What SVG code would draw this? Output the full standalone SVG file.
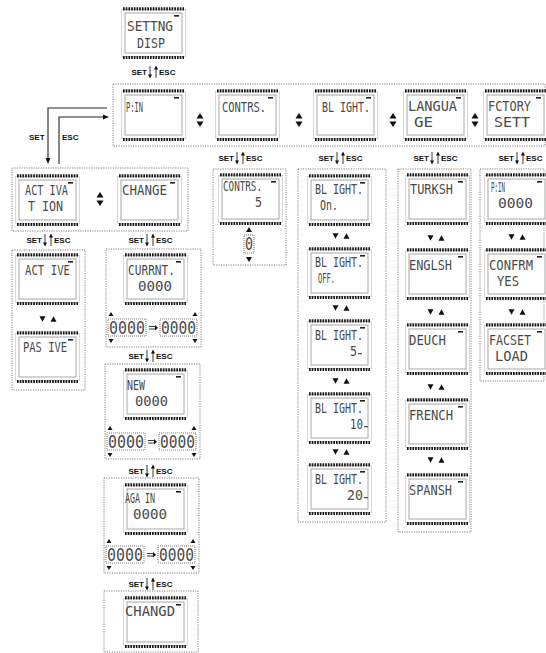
<svg xmlns="http://www.w3.org/2000/svg" width="546" height="653" viewBox="0 0 546 653">
<style>
.bg{fill:#fff}
.box{fill:none;stroke:#8a7d78;stroke-width:1;stroke-dasharray:1.2 1.2}
.dbox{fill:#fff;stroke:#6e6e6e;stroke-width:0.9;stroke-dasharray:1 1}
.t{font-family:"DejaVu Sans Mono","Liberation Mono",monospace;font-size:13.5px;fill:#4a4a4a}
.d{font-family:"DejaVu Sans Mono","Liberation Mono",monospace;font-size:17px;fill:#4a4a4a}
.lbl{font-family:"Liberation Sans",Arial,sans-serif;font-weight:bold;font-size:8px;fill:#111}
.conn{fill:none;stroke:#222;stroke-width:1.1}
.thin{fill:none;stroke:#222;stroke-width:0.9}
.tri{fill:#111}
</style>
<defs>
<g id="lcd">
<rect x="0.5" y="2.5" width="64" height="47" fill="#fff" stroke="#cfcfcf" stroke-width="0.8"/>
<rect x="4" y="6" width="57" height="40" fill="none" stroke="#a8a8a8" stroke-width="1"/>
<line x1="2" y1="1.8" x2="63" y2="1.8" stroke="#1a1a1a" stroke-width="3.2" stroke-dasharray="1.7 1"/>
<line x1="2" y1="50.5" x2="63" y2="50.5" stroke="#1a1a1a" stroke-width="3.2" stroke-dasharray="1.7 1"/>
<rect x="53" y="8" width="5" height="1.6" fill="#222"/>
</g>
<g id="ud" class="tri">
<polygon points="0,-7 -3.5,-1.5 3.5,-1.5"/>
<polygon points="0,7 -3.5,1.5 3.5,1.5"/>
</g>
<g id="da" class="tri">
<polygon points="-8.5,-2.8 -2.5,-2.8 -5.5,2.8"/>
<polygon points="2.5,2.8 8.5,2.8 5.5,-2.8"/>
</g>
<g id="se">
<line class="thin" x1="-3" y1="-6" x2="-3" y2="3"/>
<polygon class="tri" points="-5,2.5 -1,2.5 -3,6.5"/>
<line class="thin" x1="3" y1="6" x2="3" y2="-3"/>
<polygon class="tri" points="1,-2.5 5,-2.5 3,-6.5"/>
</g>
<g id="row">
<rect class="dbox" x="3" y="0" width="38" height="17"/>
<rect class="dbox" x="55" y="0" width="37" height="17"/>
<polygon class="tri" points="6,-7 3.5,-3 8.5,-3"/>
<polygon class="tri" points="6,24 3.5,20 8.5,20"/>
<polygon class="tri" points="90,-7 87.5,-3 92.5,-3"/>
<polygon class="tri" points="90,24 87.5,20 92.5,20"/>
<path d="M44,7.5 H50 M44,10 H50" class="thin" stroke-width="0.8"/>
<polygon class="tri" points="50,6 53,8.8 50,11.5"/>
</g>
</defs>
<rect class="bg" x="0" y="0" width="546" height="653"/>

<!-- container boxes -->
<g id="containers">
<rect class="box" x="113" y="84" width="432" height="62"/>
<rect class="box" x="12" y="168" width="176" height="63"/>
<rect class="box" x="12" y="250" width="73" height="140"/>
<rect class="box" x="106" y="249" width="95" height="98"/>
<rect class="box" x="105" y="364" width="95" height="95"/>
<rect class="box" x="104" y="478" width="95" height="95"/>
<rect class="box" x="104" y="591" width="94" height="61"/>
<rect class="box" x="213" y="169" width="73" height="96"/>
<rect class="box" x="298" y="169" width="88" height="353"/>
<rect class="box" x="398" y="169" width="73" height="363"/>
<rect class="box" x="480" y="169" width="64" height="212"/>
</g>

<!-- connectors -->
<g id="connectors">
<path class="conn" d="M107,108 H48 V159"/>
<polygon class="tri" points="45.5,158 50.5,158 48,164"/>
<path class="conn" d="M59,164 V117 H104"/>
<polygon class="tri" points="103,114.5 103,119.5 109,117"/>
<use href="#se" x="153" y="72"/>
<use href="#se" x="240" y="158"/>
<use href="#se" x="340" y="158"/>
<use href="#se" x="435" y="158"/>
<use href="#se" x="520" y="158"/>
<use href="#se" x="48" y="240"/>
<use href="#se" x="150" y="240"/>
<use href="#se" x="150" y="356"/>
<use href="#se" x="150" y="471"/>
<use href="#se" x="150" y="584"/>
<use href="#ud" x="200" y="120"/>
<use href="#ud" x="299" y="120"/>
<use href="#ud" x="393" y="120"/>
<use href="#ud" x="475" y="120"/>
<use href="#ud" x="100" y="199"/>
<use href="#da" x="48" y="319"/>
<use href="#da" x="341" y="236"/>
<use href="#da" x="341" y="308"/>
<use href="#da" x="341" y="381"/>
<use href="#da" x="341" y="452"/>
<use href="#da" x="436" y="238"/>
<use href="#da" x="436" y="312"/>
<use href="#da" x="436" y="387"/>
<use href="#da" x="436" y="460"/>
<use href="#da" x="517" y="237"/>
<use href="#da" x="517" y="312"/>
</g>

<!-- SET / ESC labels -->
<g id="labels">
<text class="lbl" x="147" y="75" text-anchor="end">SET</text><text class="lbl" x="159" y="75">ESC</text>
<text class="lbl" x="234" y="161" text-anchor="end">SET</text><text class="lbl" x="246" y="161">ESC</text>
<text class="lbl" x="334" y="161" text-anchor="end">SET</text><text class="lbl" x="346" y="161">ESC</text>
<text class="lbl" x="429" y="161" text-anchor="end">SET</text><text class="lbl" x="441" y="161">ESC</text>
<text class="lbl" x="514" y="161" text-anchor="end">SET</text><text class="lbl" x="526" y="161">ESC</text>
<text class="lbl" x="42" y="243" text-anchor="end">SET</text><text class="lbl" x="54" y="243">ESC</text>
<text class="lbl" x="144" y="243" text-anchor="end">SET</text><text class="lbl" x="156" y="243">ESC</text>
<text class="lbl" x="144" y="359" text-anchor="end">SET</text><text class="lbl" x="156" y="359">ESC</text>
<text class="lbl" x="144" y="474" text-anchor="end">SET</text><text class="lbl" x="156" y="474">ESC</text>
<text class="lbl" x="144" y="587" text-anchor="end">SET</text><text class="lbl" x="156" y="587">ESC</text>
<text class="lbl" x="29" y="140">SET</text>
<text class="lbl" x="62" y="140">ESC</text>
</g>

<!-- nodes -->
<g id="n-setting"><use href="#lcd" x="121" y="7"/>
<text class="t" x="127" y="31" textLength="46" lengthAdjust="spacingAndGlyphs">SETTNG</text>
<text class="t" x="137" y="48" textLength="28" lengthAdjust="spacingAndGlyphs">DISP</text></g>

<g id="n-pin"><use href="#lcd" x="121" y="89"/>
<text class="t" x="126" y="112" textLength="17" lengthAdjust="spacingAndGlyphs">P:IN</text></g>
<g id="n-contrs"><use href="#lcd" x="215" y="89"/>
<text class="t" x="222" y="112" textLength="44" lengthAdjust="spacingAndGlyphs">CONTRS.</text></g>
<g id="n-blight"><use href="#lcd" x="313" y="89"/>
<text class="t" x="322" y="112" textLength="48" lengthAdjust="spacingAndGlyphs">BL IGHT.</text></g>
<g id="n-langua"><use href="#lcd" x="403" y="89"/>
<text class="t" x="408" y="111" textLength="49" lengthAdjust="spacingAndGlyphs">LANGUA</text>
<text class="t" x="414" y="127" textLength="19" lengthAdjust="spacingAndGlyphs">GE</text></g>
<g id="n-fctory"><use href="#lcd" x="483" y="89"/>
<text class="t" x="488" y="111" textLength="43" lengthAdjust="spacingAndGlyphs">FCTORY</text>
<text class="t" x="494" y="127" textLength="36" lengthAdjust="spacingAndGlyphs">SETT</text></g>

<g id="n-activation"><use href="#lcd" x="15" y="174"/>
<text class="t" x="25" y="195" textLength="43" lengthAdjust="spacingAndGlyphs">ACT IVA</text>
<text class="t" x="28" y="211" textLength="35" lengthAdjust="spacingAndGlyphs">T ION</text></g>
<g id="n-change"><use href="#lcd" x="117" y="174"/>
<text class="t" x="122" y="195" textLength="45" lengthAdjust="spacingAndGlyphs">CHANGE</text></g>

<g id="n-active"><use href="#lcd" x="15" y="253"/>
<text class="t" x="25" y="275" textLength="45" lengthAdjust="spacingAndGlyphs">ACT IVE</text></g>
<g id="n-pasive"><use href="#lcd" x="15" y="331"/>
<text class="t" x="23" y="352" textLength="44" lengthAdjust="spacingAndGlyphs">PAS IVE</text></g>

<g id="n-currnt"><use href="#lcd" x="123" y="253"/>
<text class="t" x="128" y="275" textLength="47" lengthAdjust="spacingAndGlyphs">CURRNT.</text>
<text class="t" x="138" y="291" textLength="34" lengthAdjust="spacingAndGlyphs">0000</text>
<use href="#row" x="105" y="319"/>
<text class="d" x="109" y="334" textLength="36" lengthAdjust="spacingAndGlyphs">0000</text>
<text class="d" x="161" y="334" textLength="35" lengthAdjust="spacingAndGlyphs">0000</text></g>

<g id="n-new"><use href="#lcd" x="123" y="368"/>
<text class="t" x="127" y="390" textLength="18" lengthAdjust="spacingAndGlyphs">NEW</text>
<text class="t" x="135" y="406" textLength="33" lengthAdjust="spacingAndGlyphs">0000</text>
<use href="#row" x="104" y="433"/>
<text class="d" x="108" y="448" textLength="36" lengthAdjust="spacingAndGlyphs">0000</text>
<text class="d" x="160" y="448" textLength="35" lengthAdjust="spacingAndGlyphs">0000</text></g>

<g id="n-again"><use href="#lcd" x="123" y="483"/>
<text class="t" x="125" y="503" textLength="30" lengthAdjust="spacingAndGlyphs">AGA IN</text>
<text class="t" x="133" y="519" textLength="34" lengthAdjust="spacingAndGlyphs">0000</text>
<use href="#row" x="103" y="546"/>
<text class="d" x="107" y="561" textLength="36" lengthAdjust="spacingAndGlyphs">0000</text>
<text class="d" x="159" y="561" textLength="35" lengthAdjust="spacingAndGlyphs">0000</text></g>

<g id="n-changd"><use href="#lcd" x="123" y="596"/>
<text class="t" x="125" y="616" textLength="50" lengthAdjust="spacingAndGlyphs">CHANGD</text></g>

<g id="n-contrs5"><use href="#lcd" x="218" y="173"/>
<text class="t" x="223" y="191" textLength="39" lengthAdjust="spacingAndGlyphs">CONTRS.</text>
<text class="t" x="255" y="207" textLength="7" lengthAdjust="spacingAndGlyphs">5</text>
<rect class="dbox" x="244" y="235" width="10" height="18"/>
<text class="d" x="245" y="250" textLength="8" lengthAdjust="spacingAndGlyphs">0</text>
<polygon class="tri" points="249,227 246,232 252,232"/>
<polygon class="tri" points="249,262 246,257 252,257"/></g>

<g id="n-bl-on"><use href="#lcd" x="307" y="174"/>
<text class="t" x="315" y="194" textLength="48" lengthAdjust="spacingAndGlyphs">BL IGHT.</text>
<text class="t" x="320" y="210" textLength="18" lengthAdjust="spacingAndGlyphs">On.</text></g>
<g id="n-bl-off"><use href="#lcd" x="307" y="247"/>
<text class="t" x="315" y="267" textLength="48" lengthAdjust="spacingAndGlyphs">BL IGHT.</text>
<text class="t" x="318" y="283" textLength="17" lengthAdjust="spacingAndGlyphs">OFF.</text></g>
<g id="n-bl-5"><use href="#lcd" x="307" y="319"/>
<text class="t" x="315" y="340" textLength="48" lengthAdjust="spacingAndGlyphs">BL IGHT.</text>
<text class="t" x="350" y="356" textLength="7" lengthAdjust="spacingAndGlyphs">5</text>
<rect x="358" y="353" width="4" height="1.3" fill="#555"/></g>
<g id="n-bl-10"><use href="#lcd" x="307" y="392"/>
<text class="t" x="315" y="413" textLength="48" lengthAdjust="spacingAndGlyphs">BL IGHT.</text>
<text class="t" x="350" y="429" textLength="13" lengthAdjust="spacingAndGlyphs">10</text>
<rect x="364" y="426" width="4" height="1.3" fill="#555"/></g>
<g id="n-bl-20"><use href="#lcd" x="307" y="463"/>
<text class="t" x="315" y="484" textLength="48" lengthAdjust="spacingAndGlyphs">BL IGHT.</text>
<text class="t" x="347" y="500" textLength="16" lengthAdjust="spacingAndGlyphs">20</text>
<rect x="364" y="497" width="4" height="1.3" fill="#555"/></g>

<g id="n-turksh"><use href="#lcd" x="405" y="173"/>
<text class="t" x="410" y="194" textLength="43" lengthAdjust="spacingAndGlyphs">TURKSH</text></g>
<g id="n-englsh"><use href="#lcd" x="405" y="248"/>
<text class="t" x="409" y="270" textLength="43" lengthAdjust="spacingAndGlyphs">ENGLSH</text></g>
<g id="n-deuch"><use href="#lcd" x="405" y="323"/>
<text class="t" x="409" y="345" textLength="37" lengthAdjust="spacingAndGlyphs">DEUCH</text></g>
<g id="n-french"><use href="#lcd" x="405" y="398"/>
<text class="t" x="409" y="420" textLength="44" lengthAdjust="spacingAndGlyphs">FRENCH</text></g>
<g id="n-spansh"><use href="#lcd" x="405" y="473"/>
<text class="t" x="409" y="495" textLength="43" lengthAdjust="spacingAndGlyphs">SPANSH</text></g>

<g id="n-pin0000"><use href="#lcd" x="484" y="173"/>
<text class="t" x="491" y="192" textLength="14" lengthAdjust="spacingAndGlyphs">P:IN</text>
<text class="t" x="498" y="208" textLength="35" lengthAdjust="spacingAndGlyphs">0000</text></g>
<g id="n-confrm"><use href="#lcd" x="484" y="248"/>
<text class="t" x="489" y="270" textLength="44" lengthAdjust="spacingAndGlyphs">CONFRM</text>
<text class="t" x="497" y="286" textLength="22" lengthAdjust="spacingAndGlyphs">YES</text></g>
<g id="n-facset"><use href="#lcd" x="484" y="323"/>
<text class="t" x="489" y="345" textLength="42" lengthAdjust="spacingAndGlyphs">FACSET</text>
<text class="t" x="495" y="361" textLength="33" lengthAdjust="spacingAndGlyphs">LOAD</text></g>
</svg>
